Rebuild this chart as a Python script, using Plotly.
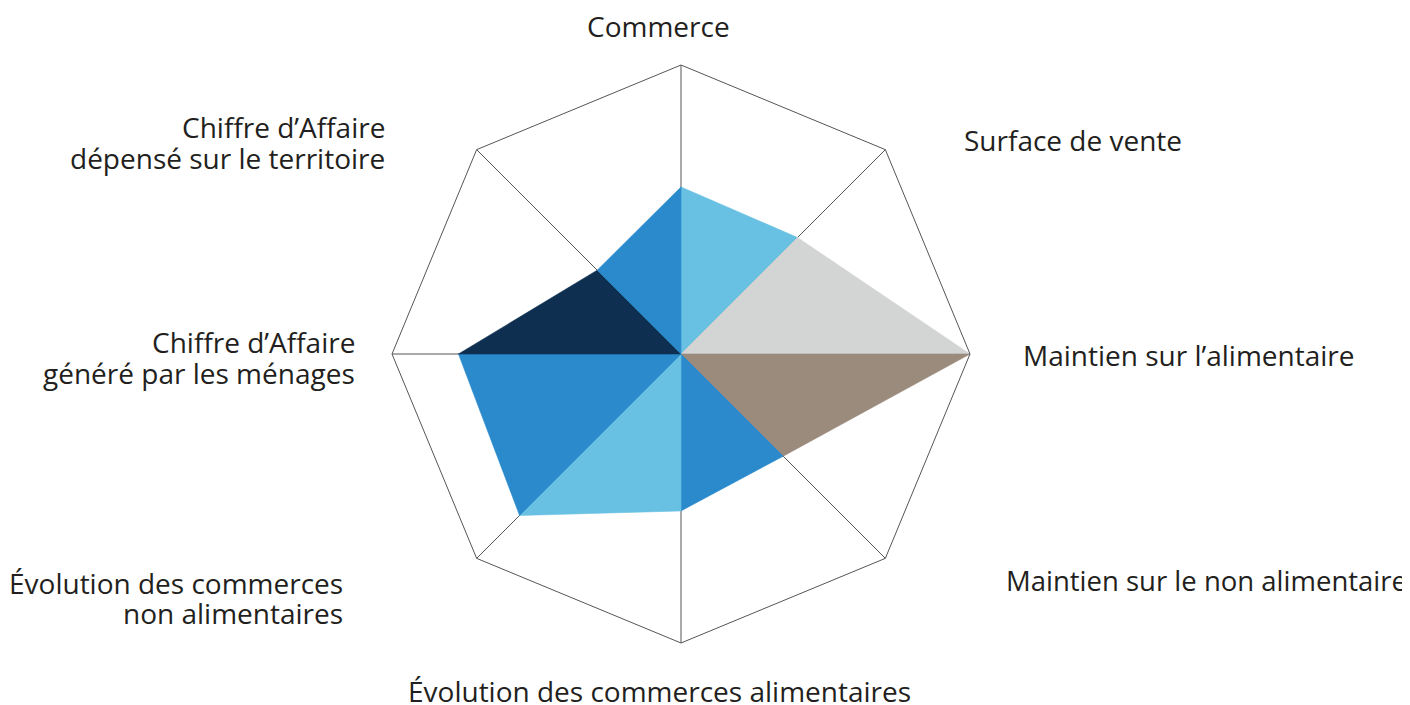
import plotly.graph_objects as go

categories = [
    "Commerce",
    "Surface de vente",
    "Maintien sur l’alimentaire",
    "Maintien sur le non alimentaire",
    "Évolution des commerces alimentaires",
    "Évolution des commerces non alimentaires",
    "Chiffre d’Affaire généré par les ménages",
    "Chiffre d’Affaire dépensé sur le territoire",
]
values = [0.578, 0.57, 1.0, 0.50, 0.543, 0.79, 0.77, 0.41]
segment_colors = ["#68C1E3", "#D3D4D4", "#9B8B7C", "#2A8ACC",
                  "#68C1E3", "#2A8ACC", "#0E2F50", "#2A8ACC"]

# label lines: (text, x, y, anchor, size) in reference-page pixels
label_lines = [
    ("Commerce", 658, 26, "center", 28),
    ("Surface de vente", 962, 140, "left", 28),
    ("Maintien sur l’alimentaire", 1021, 355, "left", 28),
    ("Maintien sur le non alimentaire", 1004, 580, "left", 27.5),
    ("Évolution des commerces alimentaires", 659, 691, "center", 28),
    ("Évolution des commerces", 345, 583, "right", 28),
    ("non alimentaires", 345, 613, "right", 28),
    ("Chiffre d’Affaire", 357, 342, "right", 28),
    ("généré par les ménages", 357, 373, "right", 28),
    ("Chiffre d’Affaire", 387, 127, "right", 28),
    ("dépensé sur le territoire", 387, 158, "right", 28),
]

OFF = 8  # default page body margin
W, H = 1410 - OFF, 705 - OFF
fig = go.Figure()
n = len(categories)
for i in range(n):
    j = (i + 1) % n
    fig.add_trace(go.Scatterpolar(
        r=[0, values[i], values[j], 0],
        theta=[categories[i], categories[i], categories[j], categories[i]],
        mode="lines",
        fill="toself",
        fillcolor=segment_colors[i],
        line=dict(width=0.6, color=segment_colors[i]),
        hoverinfo="skip",
        showlegend=False,
    ))

for text, px, py, anchor, size in label_lines:
    fig.add_annotation(
        text=text, x=(px - OFF) / W, y=1 - (py - OFF) / H,
        xref="paper", yref="paper",
        xanchor=anchor, yanchor="middle", align=anchor, showarrow=False,
        font=dict(family="Open Sans", size=size, color="#231F20"),
    )

cx, cy, R = 681, 354, 289
fig.update_layout(
    width=W, height=H,
    margin=dict(l=0, r=0, t=0, b=0),
    paper_bgcolor="white",
    plot_bgcolor="white",
    showlegend=False,
    polar=dict(
        domain=dict(x=[(cx - R - OFF) / W, (cx + R - OFF) / W],
                    y=[1 - (cy + R - OFF) / H, 1 - (cy - R - OFF) / H]),
        bgcolor="white",
        gridshape="linear",
        radialaxis=dict(range=[0, 1], visible=False, showgrid=False),
        angularaxis=dict(
            categoryorder="array", categoryarray=categories,
            direction="clockwise", rotation=90,
            showgrid=True, gridcolor="#555555", gridwidth=1,
            showline=True, linecolor="#555555", linewidth=1,
            showticklabels=False, ticks="",
        ),
    ),
)

fig.write_html("out.html")
